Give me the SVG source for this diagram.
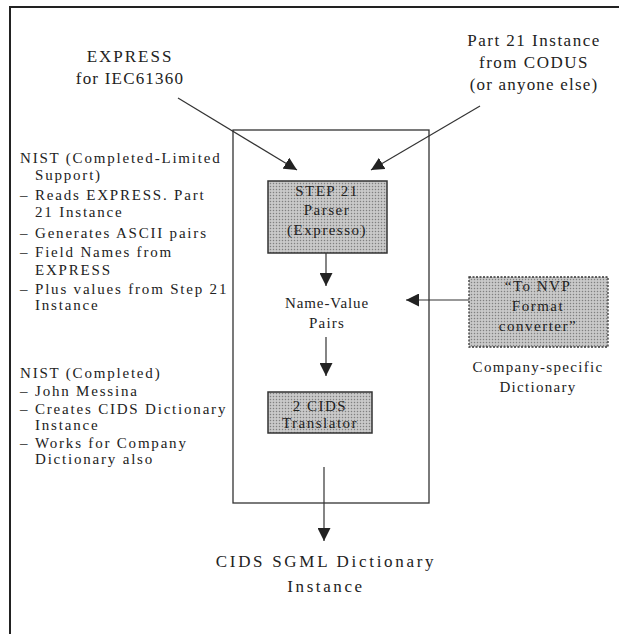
<svg xmlns="http://www.w3.org/2000/svg" width="619" height="634" viewBox="0 0 619 634">
<style>
text{font-family:"Liberation Serif","Times New Roman",serif;fill:#222}
.big{font-size:17px;letter-spacing:2px}
.sm{font-size:15px;letter-spacing:1.8px}
.box{font-size:15px;letter-spacing:1.5px}
.ln{stroke:#333;stroke-width:1.2;fill:none}
.frame{stroke:#222;stroke-width:2;fill:none}
</style>
<defs>
<pattern id="dots" width="3" height="3" patternUnits="userSpaceOnUse">
<rect width="3" height="3" fill="#bdbdbd"/>
<rect x="0" y="0" width="1" height="1" fill="#808080"/>
<rect x="1.5" y="1.5" width="1" height="1" fill="#ececec"/>
</pattern>
<marker id="ah" viewBox="0 0 10 10" refX="10" refY="5" markerWidth="13" markerHeight="13" markerUnits="userSpaceOnUse" orient="auto">
<path d="M0,0 L10,5 L0,10 z" fill="#222"/>
</marker>
</defs>
<rect width="619" height="634" fill="#fff"/>
<path class="frame" d="M10,634 L10,7 L619,7"/>

<g id="inner-frame"><rect x="233" y="130" width="196" height="373" fill="none" stroke="#333" stroke-width="1.3"/></g>

<g id="express">
<text class="big" x="130" y="62" text-anchor="middle">EXPRESS</text>
<text class="big" x="130" y="84" text-anchor="middle" style="letter-spacing:1.2px">for IEC61360</text>
</g>
<g id="part21">
<text class="big" x="534" y="46" text-anchor="middle" style="letter-spacing:1.5px">Part 21 Instance</text>
<text class="big" x="534" y="68" text-anchor="middle" style="letter-spacing:1.5px">from CODUS</text>
<text class="big" x="534" y="90" text-anchor="middle" style="letter-spacing:1.2px">(or anyone else)</text>
</g>

<g id="step21-parser">
<rect x="268" y="181" width="119" height="72" fill="url(#dots)" stroke="#333" stroke-width="1.5"/>
<text class="box" x="327" y="196" text-anchor="middle">STEP 21</text>
<text class="box" x="327" y="215" text-anchor="middle">Parser</text>
<text class="box" x="327" y="235" text-anchor="middle">(Expresso)</text>
</g>

<g id="name-value">
<text class="sm" x="327" y="308" text-anchor="middle" style="letter-spacing:0.9px">Name-Value</text>
<text class="sm" x="327" y="328" text-anchor="middle" style="letter-spacing:1.2px">Pairs</text>
</g>

<g id="cids-translator">
<rect x="268" y="392" width="104" height="41" fill="url(#dots)" stroke="#333" stroke-width="1.5"/>
<text class="box" x="320" y="411" text-anchor="middle">2 CIDS</text>
<text class="box" x="320" y="428" text-anchor="middle">Translator</text>
</g>

<g id="nvp-converter">
<rect x="469" y="277" width="139" height="70" fill="url(#dots)" stroke="#333" stroke-width="1.3" stroke-dasharray="2,1.5"/>
<text class="box" x="538" y="291" text-anchor="middle">“To NVP</text>
<text class="box" x="538" y="311" text-anchor="middle">Format</text>
<text class="box" x="538" y="331" text-anchor="middle">converter”</text>
</g>

<g id="company-dictionary">
<text class="sm" x="538" y="372" text-anchor="middle" style="letter-spacing:1.3px">Company-specific</text>
<text class="sm" x="538" y="392" text-anchor="middle" style="letter-spacing:1.3px">Dictionary</text>
</g>

<g id="cids-sgml">
<text class="big" x="326" y="567" text-anchor="middle" style="letter-spacing:2.7px">CIDS  SGML Dictionary</text>
<text class="big" x="326" y="592" text-anchor="middle" style="letter-spacing:2.6px">Instance</text>
</g>

<g id="nist-notes-1">
<text class="sm" x="20" y="163">NIST  (Completed-Limited</text>
<text class="sm" x="35" y="180">Support)</text>
<text class="sm" x="20" y="200">–</text><text class="sm" x="35" y="200">Reads EXPRESS. Part</text>
<text class="sm" x="35" y="217">21 Instance</text>
<text class="sm" x="20" y="238">–</text><text class="sm" x="35" y="238">Generates ASCII pairs</text>
<text class="sm" x="20" y="257">–</text><text class="sm" x="35" y="257">Field Names from</text>
<text class="sm" x="35" y="275">EXPRESS</text>
<text class="sm" x="20" y="294">–</text><text class="sm" x="35" y="294">Plus values from Step 21</text>
<text class="sm" x="35" y="310">Instance</text>
</g>

<g id="nist-notes-2">
<text class="sm" x="20" y="378">NIST  (Completed)</text>
<text class="sm" x="20" y="396">–</text><text class="sm" x="35" y="396">John Messina</text>
<text class="sm" x="20" y="414">–</text><text class="sm" x="35" y="414">Creates CIDS Dictionary</text>
<text class="sm" x="35" y="430">Instance</text>
<text class="sm" x="20" y="448">–</text><text class="sm" x="35" y="448">Works for Company</text>
<text class="sm" x="35" y="464">Dictionary also</text>
</g>

<g id="connectors">
<line class="ln" x1="178" y1="98" x2="297" y2="170" marker-end="url(#ah)"/>
<line class="ln" x1="480" y1="106" x2="371" y2="170" marker-end="url(#ah)"/>
<line class="ln" x1="326" y1="253" x2="326" y2="286" marker-end="url(#ah)"/>
<line class="ln" x1="326" y1="337" x2="326" y2="376" marker-end="url(#ah)"/>
<line class="ln" x1="469" y1="300" x2="406" y2="300" marker-end="url(#ah)"/>
<line class="ln" x1="324" y1="467" x2="324" y2="541" marker-end="url(#ah)"/>
</g>
</svg>
